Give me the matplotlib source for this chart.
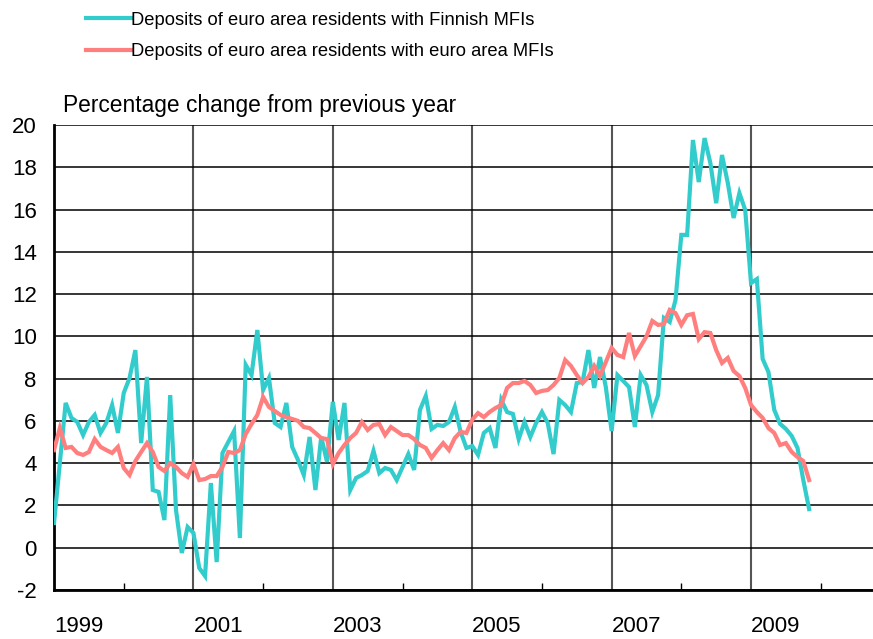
import numpy as np
import matplotlib.pyplot as plt

plt.rcParams['font.family'] = ['Liberation Sans', 'DejaVu Sans']
plt.rcParams['axes.unicode_minus'] = False

# monthly, Jan 1999 onwards
finnish = [1.17, 4.0, 6.85, 6.14, 5.95, 5.33, 5.95, 6.28, 5.43, 5.9, 6.75, 5.43,
           7.32, 8.03, 9.35, 4.95, 8.08, 2.73, 2.64, 1.31, 7.22, 1.78, -0.25, 0.98,
           0.7, -0.96, -1.34, 3.06, -0.68, 4.48, 5.0, 5.52, 0.46, 8.65, 8.17, 10.3,
           7.46, 8.03, 5.9, 5.71, 6.85, 4.77, 4.15, 3.44, 5.24, 2.73, 5.24, 4.06,
           6.9, 5.1, 6.85, 2.73, 3.3, 3.44, 3.63, 4.58, 3.53, 3.77, 3.68, 3.2,
           3.82, 4.43, 3.68, 6.52, 7.18, 5.62, 5.81, 5.76, 5.95, 6.66, 5.48, 4.72,
           4.81, 4.39, 5.43, 5.66, 4.72, 6.99, 6.42, 6.33, 5.14, 5.95, 5.24, 5.9,
           6.42, 5.9, 4.43, 6.99, 6.75, 6.42, 7.79, 7.84, 9.35, 7.56, 9.02, 7.6,
           5.52, 8.17, 7.89, 7.6, 5.71, 8.17, 7.7, 6.42, 7.22, 10.87, 10.68, 11.72,
           14.8, 14.8, 19.29, 17.3, 19.38, 18.2, 16.3, 18.58, 17.26, 15.6, 16.78, 15.98,
           12.52, 12.71, 8.93, 8.31, 6.52, 5.86, 5.62, 5.29, 4.72, 3.2, 1.83]

euro_area = [4.62, 5.66, 4.72, 4.77, 4.48, 4.39, 4.53, 5.14, 4.77, 4.62, 4.48, 4.77,
             3.77, 3.44, 4.1, 4.53, 4.95, 4.53, 3.82, 3.63, 4.0, 3.82, 3.53, 3.35,
             3.96, 3.2, 3.25, 3.39, 3.39, 3.82, 4.53, 4.48, 4.62, 5.38, 5.85, 6.28,
             7.13, 6.66, 6.47, 6.28, 6.18, 6.09, 6.0, 5.71, 5.66, 5.43, 5.19, 5.14,
             3.96, 4.48, 4.86, 5.19, 5.43, 5.95, 5.57, 5.81, 5.85, 5.33, 5.71, 5.52,
             5.33, 5.33, 5.14, 4.86, 4.72, 4.25, 4.62, 4.95, 4.62, 5.19, 5.48, 5.43,
             6.05, 6.37, 6.18, 6.42, 6.61, 6.75, 7.56, 7.79, 7.79, 7.89, 7.7, 7.32,
             7.42, 7.46, 7.7, 8.03, 8.88, 8.6, 8.17, 7.79, 8.08, 8.6, 8.12, 8.79,
             9.45, 9.12, 9.02, 10.16, 9.07, 9.54, 10.0, 10.73, 10.54, 10.58, 11.25, 11.1,
             10.54, 11.0, 11.06, 9.87, 10.2, 10.16, 9.35, 8.74, 8.98, 8.36, 8.12, 7.56,
             6.75, 6.42, 6.14, 5.66, 5.43, 4.86, 4.95, 4.53, 4.29, 4.1, 3.2]

labels = ['Deposits of euro area residents with Finnish MFIs',
          'Deposits of euro area residents with euro area MFIs']
year_labels = [1999, 2001, 2003, 2005, 2007, 2009]

t = 1999 + np.arange(len(finnish)) / 12

fig = plt.figure(figsize=(8.73, 6.39), dpi=100)
ax = fig.add_axes([0.0619, 0.0767, 0.9381, 0.7277])

l1, = ax.plot(t, finnish, color='#33CCCC', lw=3, solid_joinstyle='miter', zorder=3)
l2, = ax.plot(t, euro_area, color='#FF7F7F', lw=3, solid_joinstyle='miter', zorder=4)

ax.set_xlim(1999, 2010.75)
ax.set_ylim(-2, 20)
ax.set_yticks(range(-2, 21, 2))
ax.set_xticks(year_labels)
ax.set_xticklabels([str(y) for y in year_labels], ha='left')
ax.set_xticks(range(1999, 2011), minor=True)

ax.grid(axis='y', color='black', lw=1.1)
ax.grid(axis='x', which='major', color='#555555', lw=1.5)
ax.set_axisbelow(True)

for s in ['top', 'right']:
    ax.spines[s].set_visible(False)
ax.spines['left'].set_linewidth(2)
ax.spines['bottom'].set_linewidth(2)

ax.tick_params(axis='y', length=0, pad=12.5, labelsize=16)
ax.tick_params(axis='x', which='major', length=0, pad=19, labelsize=16)
ax.tick_params(axis='x', which='minor', direction='in', length=5, width=1)

fig.text(0.072, 0.817, 'Percentage change from previous year', fontsize=16.4,
         va='bottom', ha='left')

fig.legend([l1, l2], labels, loc='upper left', bbox_to_anchor=(0.0985, 0.982),
           frameon=False, fontsize=13.2, handlelength=2.45, handletextpad=0.0,
           labelspacing=0.8, borderpad=0, borderaxespad=0)

fig.savefig('out.png', dpi=100)
